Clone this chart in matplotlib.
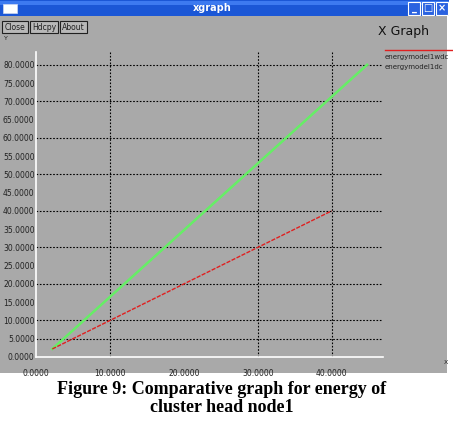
import matplotlib
matplotlib.use('Agg')
import matplotlib.pyplot as plt
from matplotlib.patches import Rectangle

W, H = 453, 424

wdc_x = [2.2, 40.0]
wdc_y = [2.2, 40.0]
dc_x = [2.2, 44.8]
dc_y = [2.2, 80.0]
x_ticks = [0, 10, 20, 30, 40]
y_ticks = [0, 5, 10, 15, 20, 25, 30, 35, 40, 45, 50, 55, 60, 65, 70, 75, 80]
x_grid = [10, 30, 40]
y_grid = [5, 10, 20, 30, 40, 50, 60, 70, 80]
labels = ['energymodel1wdc', 'energymodel1dc']
gray = '#a9a9a9'


def fx(x):
    return x / W


def fy(y):
    return 1 - y / H


def rect(x0, y0, w, h, **kw):
    # rectangle en pixels (y depuis le haut), sous les axes
    fig.patches.append(Rectangle((fx(x0), fy(y0 + h)), w / W, h / H,
                                 transform=fig.transFigure, zorder=-5, **kw))


fig = plt.figure(figsize=(W / 100, H / 100), dpi=100)
fig.patch.set_facecolor('white')

# fenetre xgraph
rect(0, 16, 447, 357, facecolor=gray, edgecolor='none')
rect(0, 0, 449, 16, facecolor='#1b57d6', edgecolor='none')
rect(0, 1, 449, 4, facecolor='#3d7af0', edgecolor='none')
rect(3, 4, 14, 9, facecolor='white', edgecolor='#cfd8f0', lw=0.5)
fig.text(fx(212), fy(8), 'xgraph', color='white', fontsize=7, fontweight='bold',
         ha='center', va='center')
for bx, sym in [(408, '_'), (422, '□'), (436, '×')]:
    rect(bx, 2, 12, 13, facecolor='#2a62e0', edgecolor='white', lw=0.8)
    fig.text(fx(bx + 6), fy(8), sym, color='white', fontsize=7, fontweight='bold',
             ha='center', va='center')

# boutons
for bx, bw, txt in [(2, 26, 'Close'), (30, 28, 'Hdcpy'), (60, 27, 'About')]:
    rect(bx, 21, bw, 12, facecolor='#b8b8b8', edgecolor='#202020', lw=0.8)
    fig.text(fx(bx + bw / 2), fy(27), txt, fontsize=5.5, ha='center', va='center', color='#202020')

fig.text(fx(378), fy(32), 'X Graph', fontsize=9, ha='left', va='center', color='#111111')
fig.text(fx(4), fy(39), 'Y', fontsize=4.5, ha='left', va='center', color='#222222')
fig.text(fx(444), fy(363), 'X', fontsize=4.5, ha='left', va='center', color='#222222')

# zone du graphe
ax = fig.add_axes([fx(36), fy(357), (383 - 36) / W, (357 - 52) / H])
ax.set_facecolor('none')
ax.set_xlim(0, 46.95)
ax.set_ylim(0, 83.5)
for s in ['top', 'right']:
    ax.spines[s].set_visible(False)
for s in ['left', 'bottom']:
    ax.spines[s].set_color('white')
    ax.spines[s].set_linewidth(1.2)
    ax.spines[s].set_zorder(5)

for g in y_grid:
    ax.axhline(g, color='black', linestyle=(0, (1.5, 1.5)), linewidth=0.8, zorder=1)
for g in x_grid:
    ax.axvline(g, color='black', linestyle=(0, (1.5, 1.5)), linewidth=0.8, zorder=1)

ax.plot(dc_x, dc_y, color='#66ee66', linewidth=1.8, zorder=3)
ax.plot(wdc_x, wdc_y, color='#e02020', linewidth=1.0, linestyle=(0, (3, 1)), zorder=3)

ax.set_xticks(x_ticks)
ax.set_xticklabels(['%.4f' % v for v in x_ticks])
ax.set_yticks(y_ticks)
ax.set_yticklabels(['%.4f' % v for v in y_ticks])
ax.tick_params(length=0, labelsize=5.5, labelcolor='#222222')
ax.tick_params(axis='x', pad=9)
ax.tick_params(axis='y', pad=1)

# legende
fig.add_artist(plt.Line2D([fx(385), fx(453)], [fy(50), fy(50)], color='#e02020', linewidth=1.0))
fig.text(fx(385), fy(57), labels[0], fontsize=5, ha='left', va='center', color='#222222')
fig.text(fx(385), fy(67), labels[1], fontsize=5, ha='left', va='center', color='#222222')

# legende de la figure
fig.text(fx(222), fy(389), 'Figure 9: Comparative graph for energy of', family='Liberation Serif',
         fontweight='bold', fontsize=13, ha='center', va='center')
fig.text(fx(222), fy(408), 'cluster head node1', family='Liberation Serif',
         fontweight='bold', fontsize=13, ha='center', va='center')

fig.savefig('out.png', dpi=100)
